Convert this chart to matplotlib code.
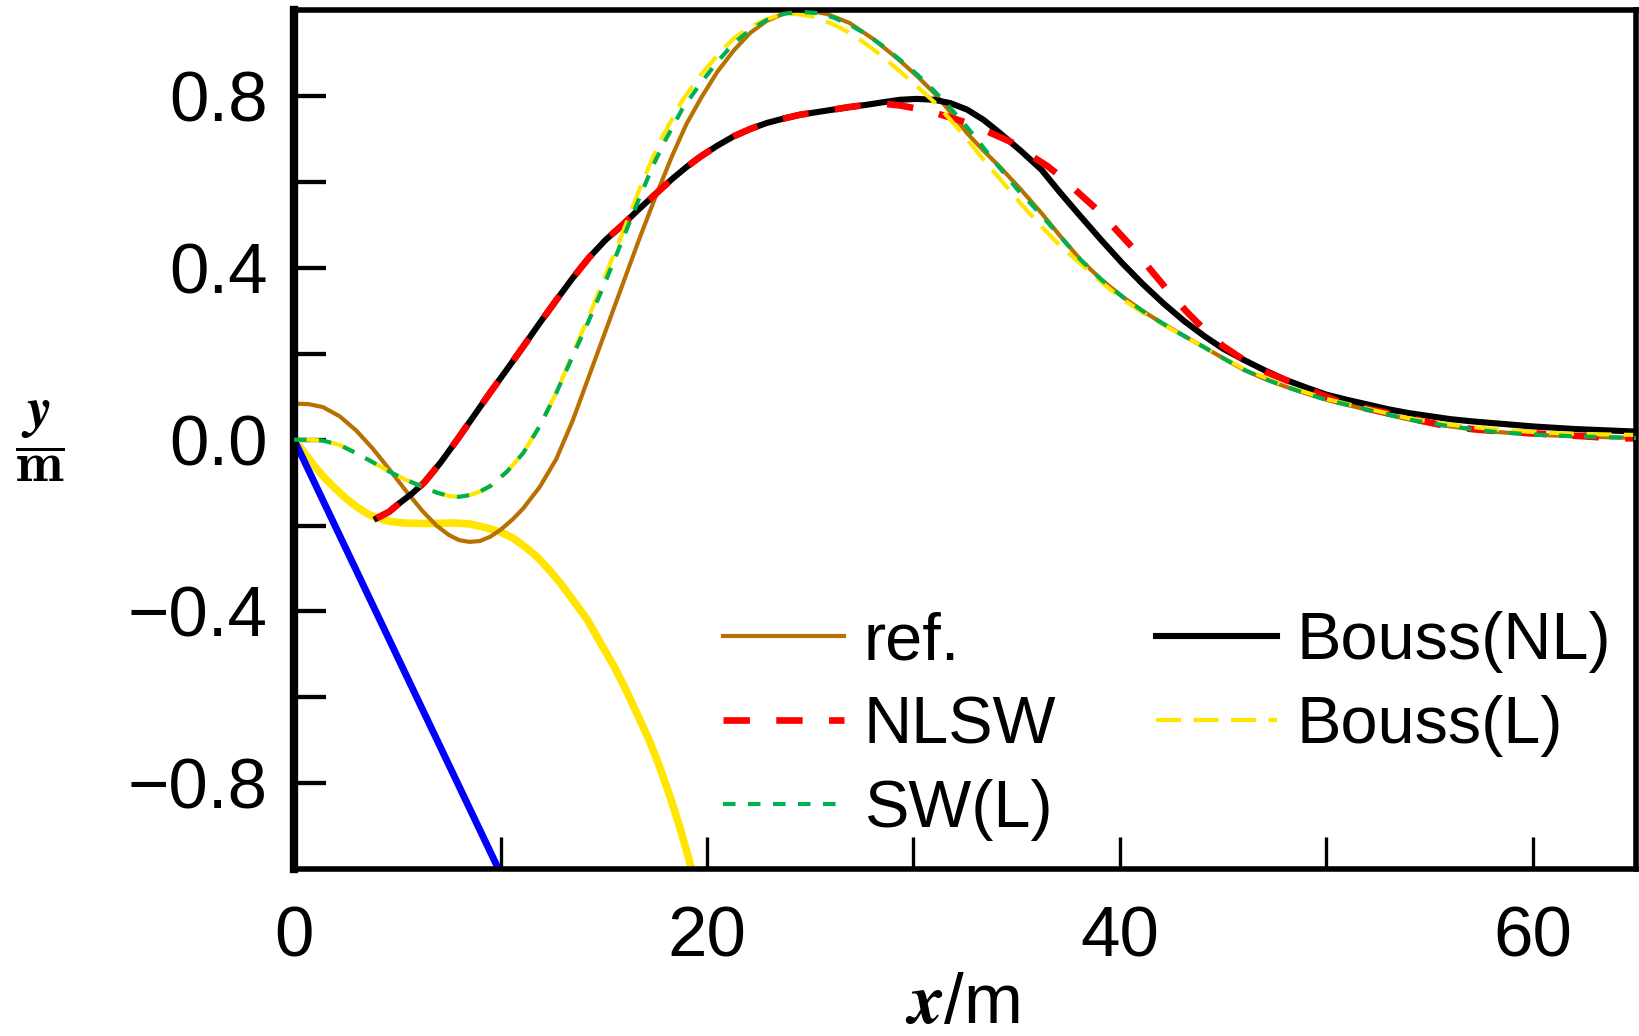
import matplotlib
matplotlib.use("Agg")
import matplotlib.pyplot as plt

plt.rcParams['font.family'] = ['Liberation Sans', 'DejaVu Sans']
plt.rcParams['mathtext.fontset'] = 'cm'
plt.rcParams['lines.scale_dashes'] = False

# ref. (brown)
ref_x = [0, 0.7, 1.4, 2.2, 3.0, 3.8, 4.6, 5.4, 6.2, 6.9, 7.5, 8.0, 8.5, 9.0, 9.5, 10.0,
         10.6, 11.1, 11.9, 12.7, 13.5, 14.3, 15.1, 15.9, 16.7, 17.5, 18.3, 19.0, 19.7,
         20.5, 21.3, 22.1, 22.9, 23.8, 24.8, 25.8, 26.9, 28.1, 29.3, 30.2, 31.0, 31.8,
         32.6, 33.4, 34.2, 35.2, 36.2, 37.1, 38.1, 39.1, 40.1, 41.1, 42.1, 43.1, 44.1,
         45.0, 46.0, 47.0, 48.0, 49.0, 50.0, 51.0, 52.0, 53.0, 54.0, 55.0, 56.0, 57.0,
         58.0, 60.0, 62.0, 65.0]
ref_y = [0.084, 0.083, 0.076, 0.055, 0.022, -0.02, -0.068, -0.118, -0.165, -0.2, -0.222,
         -0.234, -0.238, -0.236, -0.226, -0.21, -0.185, -0.16, -0.11, -0.045, 0.045, 0.15,
         0.255, 0.36, 0.465, 0.565, 0.66, 0.735, 0.795, 0.857, 0.907, 0.948, 0.976, 0.994,
         1.0, 0.992, 0.971, 0.932, 0.885, 0.846, 0.808, 0.763, 0.714, 0.673, 0.635, 0.583,
         0.528, 0.475, 0.419, 0.373, 0.334, 0.3, 0.27, 0.242, 0.215, 0.19, 0.163, 0.142,
         0.124, 0.108, 0.093, 0.081, 0.07, 0.058, 0.047, 0.038, 0.031, 0.025, 0.019,
         0.012, 0.008, 0.004]

# NLSW (red dashed)
nlsw_x = [4.0, 4.6, 5.1, 5.7, 6.3, 7.1, 7.9, 8.7, 9.5, 10.3, 11.1, 11.9, 12.7, 13.5,
          14.3, 15.1, 15.9, 16.7, 17.5, 18.3, 19.0, 19.7, 20.5, 21.3, 22.1, 22.9, 23.7,
          24.5, 25.3, 26.1, 26.9, 27.7, 28.5, 29.3, 30.0, 31.0, 31.9, 32.6, 33.4, 34.1,
          34.8, 35.6, 36.5, 37.0, 38.0, 38.9, 39.8, 40.7, 41.5, 42.3, 43.2, 44.1, 45.0,
          46.0, 47.2, 48.4, 49.5, 50.6, 52.0, 53.4, 54.6, 55.9, 57.2, 58.5, 61.1, 63.8,
          65.0]
nlsw_y = [-0.183, -0.168, -0.148, -0.126, -0.1, -0.053, 0.0, 0.055, 0.11, 0.163, 0.217,
          0.272, 0.325, 0.377, 0.425, 0.466, 0.5, 0.537, 0.572, 0.607, 0.635, 0.66, 0.685,
          0.707, 0.724, 0.738, 0.748, 0.757, 0.763, 0.769, 0.775, 0.78, 0.783, 0.779,
          0.773, 0.762, 0.749, 0.738, 0.722, 0.707, 0.692, 0.665, 0.637, 0.618, 0.575,
          0.536, 0.49, 0.443, 0.395, 0.349, 0.3, 0.256, 0.218, 0.186, 0.155, 0.132, 0.11,
          0.089, 0.072, 0.058, 0.044, 0.031, 0.024, 0.019, 0.012, 0.004, 0.003]

# SW(L) (green dotted)
swl_x = [0, 0.7, 1.4, 2.2, 3.0, 3.8, 4.6, 5.4, 6.2, 6.9, 7.5, 8.0, 8.5, 9.0, 9.5, 10.3,
         11.1, 11.9, 12.7, 13.5, 14.3, 15.1, 15.9, 16.7, 17.4, 18.0, 18.8, 19.7, 20.5,
         21.3, 22.1, 22.9, 23.7, 24.5, 25.3, 26.1, 26.9, 27.7, 28.5, 29.3, 30.2, 31.0,
         31.8, 32.6, 33.4, 34.2, 35.0, 35.8, 37.1, 38.1, 39.1, 40.1, 41.1, 42.1, 43.1,
         44.1, 45.0, 46.0, 47.0, 48.0, 49.0, 50.0, 52.0, 54.0, 56.0, 58.0, 60.0, 62.0,
         65.0]
swl_y = [0, 0.0, -0.002, -0.012, -0.031, -0.052, -0.074, -0.093, -0.109, -0.123, -0.131,
         -0.133, -0.129, -0.121, -0.108, -0.075, -0.031, 0.032, 0.109, 0.195, 0.28, 0.37,
         0.465, 0.56, 0.64, 0.699, 0.77, 0.831, 0.88, 0.924, 0.955, 0.978, 0.992, 0.997,
         0.994, 0.984, 0.967, 0.945, 0.918, 0.887, 0.85, 0.813, 0.772, 0.728, 0.68, 0.632,
         0.585, 0.544, 0.474, 0.419, 0.373, 0.334, 0.3, 0.27, 0.242, 0.215, 0.19, 0.163,
         0.142, 0.124, 0.108, 0.093, 0.07, 0.047, 0.031, 0.019, 0.012, 0.008, 0.004]

# Bouss(NL) (black)
bnl_x = [4.0, 4.6, 5.1, 5.7, 6.3, 7.1, 7.9, 8.7, 9.5, 10.3, 11.1, 11.9, 12.7, 13.5, 14.3,
         15.1, 15.9, 16.7, 17.5, 18.3, 19.0, 19.7, 20.5, 21.3, 22.1, 22.9, 23.7, 24.5,
         25.3, 26.1, 26.9, 27.7, 28.5, 29.35, 30.15, 31.0, 31.8, 32.6, 33.4, 34.2, 35.2,
         36.2, 37.1, 38.1, 39.1, 40.1, 41.1, 42.1, 43.1, 44.1, 45.0, 46.0, 47.0, 48.0,
         49.0, 50.0, 51.0, 52.0, 53.0, 54.0, 55.0, 56.0, 57.0, 58.0, 60.0, 62.0, 65.0]
bnl_y = [-0.183, -0.168, -0.148, -0.126, -0.1, -0.053, 0.0, 0.055, 0.11, 0.163, 0.217,
         0.272, 0.325, 0.377, 0.425, 0.466, 0.5, 0.537, 0.572, 0.607, 0.635, 0.66, 0.685,
         0.707, 0.724, 0.738, 0.748, 0.757, 0.763, 0.769, 0.775, 0.78, 0.786, 0.792,
         0.794, 0.792, 0.784, 0.769, 0.745, 0.714, 0.673, 0.629, 0.576, 0.52, 0.465,
         0.412, 0.363, 0.318, 0.277, 0.241, 0.212, 0.186, 0.162, 0.14, 0.122, 0.105,
         0.093, 0.082, 0.071, 0.062, 0.055, 0.048, 0.043, 0.039, 0.031, 0.025, 0.019]

# Bouss(L) (yellow dashed)
bl_x = [0, 0.7, 1.4, 2.2, 3.0, 3.8, 4.6, 5.4, 6.2, 6.9, 7.5, 8.0, 8.5, 9.0, 9.5, 10.3,
        11.1, 11.9, 12.7, 13.5, 14.3, 15.1, 15.9, 16.7, 17.4, 18.0, 18.8, 19.7, 20.5,
        21.3, 22.1, 22.9, 23.6, 24.3, 25.1, 26.1, 26.9, 27.7, 28.5, 29.3, 30.2, 31.0,
        31.8, 32.6, 33.4, 34.2, 35.2, 36.2, 37.1, 38.1, 39.1, 40.1, 41.1, 42.1, 44.1,
        46.0, 48.0, 50.0, 52.0, 54.0, 56.0, 58.0, 60.0, 62.0, 65.0]
bl_y = [0, 0.0, -0.002, -0.012, -0.031, -0.052, -0.074, -0.093, -0.109, -0.123, -0.131,
        -0.133, -0.129, -0.121, -0.108, -0.075, -0.031, 0.032, 0.109, 0.2, 0.29, 0.385,
        0.48, 0.58, 0.66, 0.72, 0.79, 0.85, 0.895, 0.935, 0.962, 0.98, 0.99, 0.992,
        0.986, 0.968, 0.948, 0.922, 0.893, 0.86, 0.822, 0.787, 0.745, 0.7, 0.652, 0.607,
        0.55, 0.497, 0.452, 0.41, 0.367, 0.328, 0.296, 0.268, 0.215, 0.165, 0.126,
        0.095, 0.072, 0.05, 0.035, 0.025, 0.018, 0.014, 0.011]

# thick yellow curve (no legend entry)
ty_x = [0, 0.5, 1.0, 1.5, 2.0, 2.5, 3.0, 3.5, 4.0, 4.6, 5.3, 6.1, 7.0, 7.7, 8.5, 9.3,
        10.0, 10.6, 11.2, 11.75, 12.3, 12.9, 13.5, 14.2, 14.8, 15.5, 16.0, 16.6, 17.2,
        17.7, 18.2, 18.7, 19.2]
ty_y = [0, -0.03, -0.062, -0.09, -0.114, -0.136, -0.155, -0.171, -0.182, -0.19, -0.194,
        -0.195, -0.195, -0.194, -0.196, -0.205, -0.215, -0.229, -0.25, -0.272, -0.3,
        -0.334, -0.373, -0.419, -0.47, -0.528, -0.575, -0.637, -0.7, -0.761, -0.83,
        -0.905, -0.99]

# blue straight line
blue_x = [0, 9.9]
blue_y = [0, -1.0]

fig = plt.figure(figsize=(16.4, 10.36), dpi=100)
ax = fig.add_axes([0.1793, 0.1612, 0.8183, 0.8287])

ax.plot(ty_x, ty_y, color='#FFE500', lw=5.5, zorder=2.0)
ax.plot(blue_x, blue_y, color='#0000FF', lw=5, zorder=2.1)
ax.plot(ref_x, ref_y, color='#B87100', lw=3, label='ref.', zorder=2.2)
ax.plot(nlsw_x, nlsw_y, color='#FF0000', lw=4.8, dashes=(19, 19), label='NLSW', zorder=2.4)
ax.plot(swl_x, swl_y, color='#00B050', lw=3, dashes=(9, 9), label='SW(L)', zorder=2.6)
ax.plot(bnl_x, bnl_y, color='black', lw=4.4, label='Bouss(NL)', zorder=2.3)
ax.plot(bl_x, bl_y, color='#FFE500', lw=3, dashes=(18, 9), label='Bouss(L)', zorder=2.5)

ax.set_xlim(0, 65)
ax.set_ylim(-1, 1)

ax.set_xticks([0, 20, 40, 60])
ax.set_xticks([10, 30, 50], minor=True)
ax.set_yticks([-0.8, -0.4, 0.0, 0.4, 0.8])
ax.set_yticks([-0.6, -0.2, 0.2, 0.6], minor=True)
ax.set_yticklabels(['\u22120.8', '\u22120.4', '0.0', '0.4', '0.8'])

ax.tick_params(axis='x', which='both', direction='in', length=23, width=2.4,
               labelsize=51, pad=26)
ax.tick_params(axis='y', which='both', direction='in', length=23, width=3.1,
               labelsize=51, pad=19)
ax.tick_params(top=False, right=False)

ax.spines['left'].set_linewidth(6)
for s in ['top', 'right', 'bottom']:
    ax.spines[s].set_linewidth(4)

ax.set_xlabel(r'$\boldsymbol{x}$/m', fontsize=51, va='center')
ax.xaxis.set_label_coords(0.4978, -0.1584)
ax.set_ylabel(r'$\dfrac{\boldsymbol{y}}{\mathbf{m}}$', fontsize=41, rotation=0,
              ha='center', va='center')
ax.yaxis.set_label_coords(-0.1893, 0.4985)

ax.legend(ncol=2, loc='upper left', bbox_to_anchor=(0.3197, 0.3005), frameon=False,
          fontsize=48, handlelength=1.81, handletextpad=0.3, columnspacing=1.5,
          labelspacing=0.33, borderpad=0, borderaxespad=0)

fig.savefig('out.png', dpi=100)
